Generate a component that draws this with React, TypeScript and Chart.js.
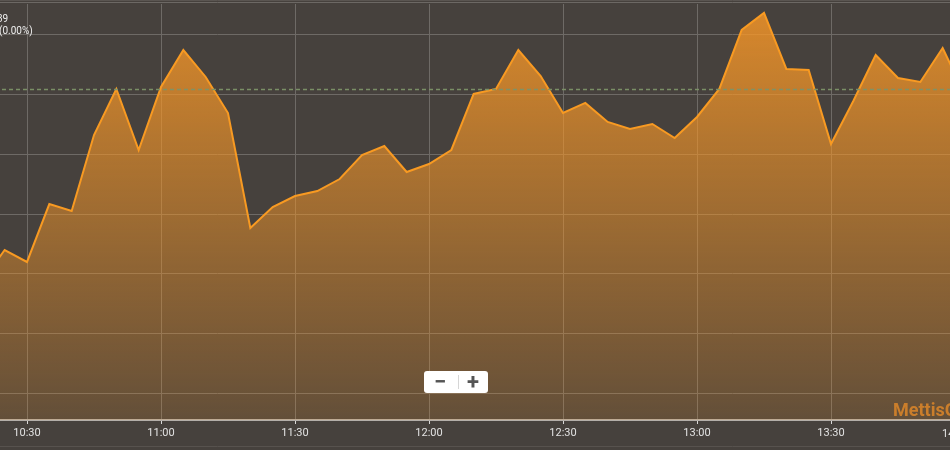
import React, { useEffect, useRef } from 'react';
import { Chart, registerables } from 'chart.js';

Chart.register(...registerables);

// ---- data ----
const TIMES = [
  '10:20', '10:25', '10:30', '10:35', '10:40', '10:45', '10:50', '10:55',
  '11:00', '11:05', '11:10', '11:15', '11:20', '11:25', '11:30', '11:35',
  '11:40', '11:45', '11:50', '11:55', '12:00', '12:05', '12:10', '12:15',
  '12:20', '12:25', '12:30', '12:35', '12:40', '12:45', '12:50', '12:55',
  '13:00', '13:05', '13:10', '13:15', '13:20', '13:25', '13:30', '13:35',
  '13:40', '13:45', '13:50', '13:55', '14:00',
];
const VALUES = [
  41693.6, 41719.5, 41709.5, 41757.9, 41752.1, 41815.6, 41854.1, 41803.1,
  41855.7, 41886.6, 41864.1, 41834.0, 41737.9, 41755.4, 41764.6, 41768.8,
  41778.8, 41798.9, 41806.4, 41784.7, 41791.4, 41803.1, 41849.9, 41854.1,
  41886.6, 41864.9, 41834.0, 41842.4, 41826.5, 41820.6, 41824.8, 41813.1,
  41830.7, 41854.1, 41903.4, 41917.6, 41870.8, 41869.9, 41808.1, 41844.0,
  41882.5, 41863.2, 41859.9, 41888.3, 41849.0,
];
const TICK_LABELS = ['10:30', '11:00', '11:30', '12:00', '12:30', '13:00', '13:30', '14:00'];
const Y_GRID_VALUES = [41600, 41650, 41700, 41750, 41800, 41850, 41900];
const PREV_CLOSE = 41853.8;
const PLOT_LABEL_LINES = ['39', '(0.00%)'];
const WATERMARK = 'MettisGlobal';
const ZOOM_OUT = '\u2212';
const ZOOM_IN = '+';

// ---- view window ----
const OFF = 40;
const CW = 1030;
const CH = 450;
const X_MIN = 615;
const X_MAX = 845.597;
const Y_MIN = 41577.44;
const Y_MAX = 41925.09;

const toMin = (s: string) => {
  const [h, m] = s.split(':').map(Number);
  return h * 60 + m;
};

const FONT = 'Roboto, "Noto Sans", sans-serif';
const GRID = '#6e6a66';

const overlay = {
  id: 'overlay',
  beforeDatasetsDraw(chart: any) {
    const { ctx, chartArea, scales } = chart;
    ctx.save();
    ctx.strokeStyle = GRID;
    ctx.lineWidth = 1;
    Y_GRID_VALUES.forEach((v) => {
      const y = Math.round(scales.y.getPixelForValue(v)) + 0.5;
      ctx.beginPath();
      ctx.moveTo(chartArea.left, y);
      ctx.lineTo(chartArea.right, y);
      ctx.stroke();
    });
    ctx.restore();
  },
  afterDatasetsDraw(chart: any) {
    const { ctx, chartArea, scales } = chart;
    const y = Math.round(scales.y.getPixelForValue(PREV_CLOSE)) + 0.5;
    ctx.save();
    ctx.strokeStyle = 'rgba(125,148,104,0.95)';
    ctx.lineWidth = 1.5;
    ctx.setLineDash([4, 3]);
    ctx.beginPath();
    ctx.moveTo(chartArea.left, y);
    ctx.lineTo(chartArea.right, y);
    ctx.stroke();
    ctx.restore();
  },
  afterDraw(chart: any) {
    const { ctx } = chart;
    ctx.save();
    // top border lines
    ctx.strokeStyle = '#5a5551';
    ctx.lineWidth = 1;
    ctx.beginPath();
    ctx.moveTo(0, 0.5);
    ctx.lineTo(CW, 0.5);
    ctx.stroke();
    ctx.strokeStyle = '#6c6864';
    ctx.beginPath();
    ctx.moveTo(0, 2.5);
    ctx.lineTo(CW, 2.5);
    ctx.stroke();
    // bottom faint line
    ctx.strokeStyle = '#57524e';
    ctx.beginPath();
    ctx.moveTo(0, 446.5);
    ctx.lineTo(CW, 446.5);
    ctx.stroke();

    // last axis label, justified inside the visible width
    ctx.fillStyle = '#e2e2e2';
    ctx.font = `11px ${FONT}`;
    ctx.textAlign = 'left';
    ctx.textBaseline = 'alphabetic';
    ctx.fillText(TICK_LABELS[TICK_LABELS.length - 1], OFF + 942, 437);

    // plot line label (cropped)
    ctx.fillStyle = '#eeeeee';
    ctx.font = `10px ${FONT}`;
    ctx.fillText(PLOT_LABEL_LINES[0], OFF - 3, 22);
    ctx.fillText(PLOT_LABEL_LINES[1], OFF - 1, 34);

    // watermark
    ctx.fillStyle = 'rgba(232,140,40,0.78)';
    ctx.font = `bold 18px ${FONT}`;
    ctx.fillText(WATERMARK, OFF + 893, 416);

    // zoom buttons
    const bx = OFF + 424;
    const by = 371;
    const bw = 64;
    const bh = 22;
    ctx.fillStyle = '#ffffff';
    ctx.beginPath();
    (ctx as any).roundRect(bx, by, bw, bh, 3);
    ctx.fill();
    ctx.strokeStyle = '#d6d6d6';
    ctx.lineWidth = 1;
    ctx.beginPath();
    ctx.moveTo(OFF + 458.5, by + 4);
    ctx.lineTo(OFF + 458.5, by + bh - 4);
    ctx.stroke();
    ctx.fillStyle = '#555555';
    ctx.font = `bold 22px ${FONT}`;
    ctx.textAlign = 'center';
    ctx.textBaseline = 'middle';
    ctx.fillText(ZOOM_OUT, OFF + 440, by + bh / 2 + 1);
    ctx.fillText(ZOOM_IN, OFF + 473, by + bh / 2 + 1);
    ctx.restore();
  },
};

export default function App() {
  const ref = useRef<HTMLCanvasElement | null>(null);

  useEffect(() => {
    if (!ref.current) return;
    const points = TIMES.map((t, i) => ({ x: toMin(t), y: VALUES[i] }));
    const tickMins = TICK_LABELS.map(toMin);
    const lastTick = tickMins[tickMins.length - 1];
    const chart = new Chart(ref.current, {
      type: 'line',
      data: {
        datasets: [
          {
            data: points,
            borderColor: '#f89a22',
            borderWidth: 2,
            pointRadius: 0,
            tension: 0,
            fill: 'start',
            backgroundColor: (c: any) => {
              const ca = c.chart.chartArea;
              if (!ca) return 'rgba(245,150,40,0.5)';
              const g = c.chart.ctx.createLinearGradient(0, ca.top, 0, ca.bottom);
              g.addColorStop(0, 'rgba(245,150,40,0.85)');
              g.addColorStop(1, 'rgba(245,150,40,0.17)');
              return g;
            },
          },
        ],
      },
      options: {
        animation: false,
        responsive: false,
        layout: { padding: { top: 4, left: 0, right: 0, bottom: 0 } },
        plugins: { legend: { display: false }, tooltip: { enabled: false } },
        scales: {
          x: {
            type: 'linear',
            min: X_MIN,
            max: X_MAX,
            afterFit: (s: any) => {
              s.height = 30;
            },
            ticks: {
              stepSize: 30,
              includeBounds: false,
              autoSkip: false,
              maxRotation: 0,
              color: '#e2e2e2',
              padding: 3,
              font: { family: FONT, size: 11 },
              callback: (v: any) => {
                const n = Number(v);
                if (n === lastTick) return '';
                const i = tickMins.indexOf(n);
                return i >= 0 ? TICK_LABELS[i] : '';
              },
            },
            grid: {
              color: GRID,
              lineWidth: 1,
              tickLength: 4,
              tickColor: '#d8d8d8',
            },
            border: { display: true, color: '#b3aea9', width: 2 },
          },
          y: {
            type: 'linear',
            min: Y_MIN,
            max: Y_MAX,
            display: true,
            afterFit: (s: any) => {
              s.width = 0;
            },
            ticks: { display: false },
            grid: { display: false },
            border: { display: false },
          },
        },
      },
      plugins: [overlay],
    } as any);
    return () => chart.destroy();
  }, []);

  return (
    <div
      style={{
        position: 'fixed',
        left: 0,
        top: 0,
        width: 950,
        height: 450,
        overflow: 'hidden',
        background: '#46413d',
      }}
    >
      <canvas
        ref={ref}
        width={CW}
        height={CH}
        style={{ position: 'absolute', left: -OFF, top: 0, width: CW, height: CH, display: 'block' }}
      />
    </div>
  );
}
